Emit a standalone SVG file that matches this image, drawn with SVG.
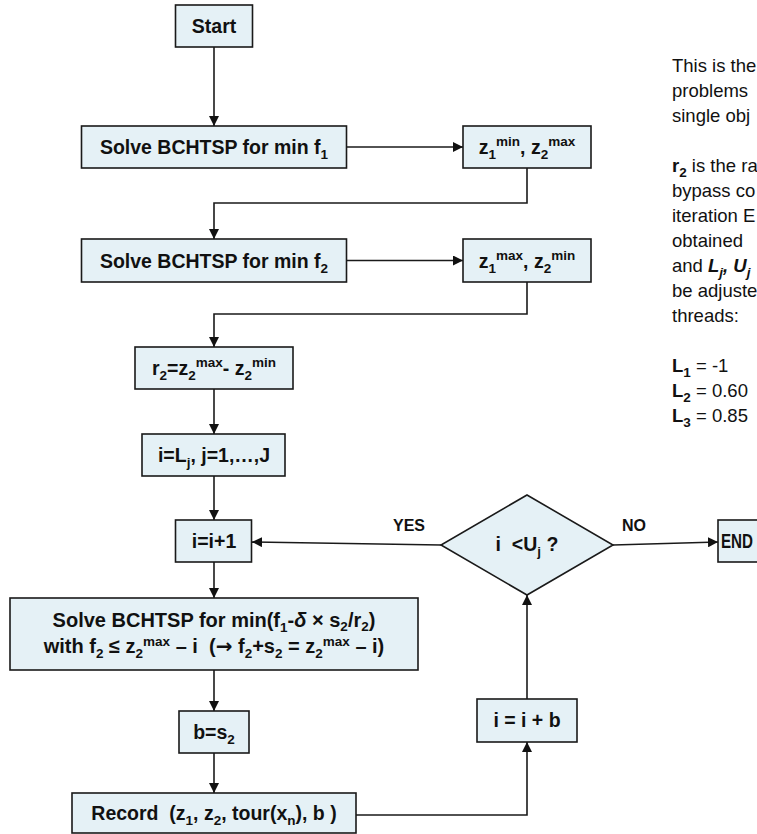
<svg xmlns="http://www.w3.org/2000/svg" width="757" height="834" viewBox="0 0 757 834">
<defs>
<marker id="ah" viewBox="0 0 10 10" refX="10" refY="5" markerWidth="10" markerHeight="10" markerUnits="userSpaceOnUse" orient="auto"><path d="M0,0 L10,5 L0,10 z" fill="#111"/></marker>
</defs>
<style>
.box{fill:#E5F1F6;stroke:#1a1a1a;stroke-width:1.6}
.t{font-family:"Liberation Sans",Arial,sans-serif;font-weight:bold;font-size:19.5px;fill:#111;text-anchor:middle}
.t2{font-size:20px}
.s{font-size:13.5px}
.c{fill:none;stroke:#1a1a1a;stroke-width:1.6}
.lbl{font-family:"Liberation Sans",Arial,sans-serif;font-weight:bold;font-size:16px;fill:#111;text-anchor:middle}
.note{font-family:"Liberation Sans",Arial,sans-serif;font-size:18.5px;fill:#111}
.arr{font-family:"DejaVu Sans",sans-serif;font-weight:bold}
</style>
<rect width="757" height="834" fill="#fff"/>

<g id="connectors">
<path class="c" d="M214,47 V126" marker-end="url(#ah)"/>
<path class="c" d="M346.5,147 H463" marker-end="url(#ah)"/>
<path class="c" d="M527,168 V203 H214 V239" marker-end="url(#ah)"/>
<path class="c" d="M346.5,260.5 H463" marker-end="url(#ah)"/>
<path class="c" d="M527,282 V314 H214 V347" marker-end="url(#ah)"/>
<path class="c" d="M214,389 V434" marker-end="url(#ah)"/>
<path class="c" d="M214,476 V520" marker-end="url(#ah)"/>
<path class="c" d="M441,545 L252,542" marker-end="url(#ah)"/>
<path class="c" d="M613,545 L718,542" marker-end="url(#ah)"/>
<path class="c" d="M214,562 V598" marker-end="url(#ah)"/>
<path class="c" d="M214,670 V711" marker-end="url(#ah)"/>
<path class="c" d="M214,753 V793" marker-end="url(#ah)"/>
<path class="c" d="M356,815 H527 V742" marker-end="url(#ah)"/>
<path class="c" d="M527,699 V595" marker-end="url(#ah)"/>
<text class="lbl" x="409" y="531">YES</text>
<text class="lbl" x="634" y="531">NO</text>
</g>

<g id="start">
<rect class="box" x="175.5" y="5" width="77" height="42"/>
<text class="t" x="214" y="33">Start</text>
</g>

<g id="solve1">
<rect class="box" x="81.5" y="126" width="265" height="42"/>
<text class="t" x="214" y="154">Solve BCHTSP for min f<tspan class="s" dy="5">1</tspan></text>
</g>

<g id="z1min">
<rect class="box" x="463" y="126" width="128" height="42"/>
<text class="t" x="527" y="154">z<tspan class="s" dy="5">1</tspan><tspan class="s" dy="-13">min</tspan><tspan dy="8">, z</tspan><tspan class="s" dy="5">2</tspan><tspan class="s" dy="-13">max</tspan></text>
</g>

<g id="solve2">
<rect class="box" x="81.5" y="239" width="265" height="43"/>
<text class="t" x="214" y="267.5">Solve BCHTSP for min f<tspan class="s" dy="5">2</tspan></text>
</g>

<g id="z1max">
<rect class="box" x="463" y="239" width="128" height="43"/>
<text class="t" x="527" y="267.5">z<tspan class="s" dy="5">1</tspan><tspan class="s" dy="-13">max</tspan><tspan dy="8">, z</tspan><tspan class="s" dy="5">2</tspan><tspan class="s" dy="-13">min</tspan></text>
</g>

<g id="r2">
<rect class="box" x="135" y="347" width="158" height="42"/>
<text class="t" x="214" y="375">r<tspan class="s" dy="5">2</tspan><tspan dy="-5">=z</tspan><tspan class="s" dy="5">2</tspan><tspan class="s" dy="-13">max</tspan><tspan dy="8">- z</tspan><tspan class="s" dy="5">2</tspan><tspan class="s" dy="-13">min</tspan></text>
</g>

<g id="init">
<rect class="box" x="142" y="434" width="143" height="42"/>
<text class="t" x="214" y="462">i=L<tspan class="s" dy="5">j</tspan><tspan dy="-5">, j=1,…,J</tspan></text>
</g>

<g id="inc">
<rect class="box" x="175.5" y="520" width="76" height="42"/>
<text class="t" x="214" y="548">i=i+1</text>
</g>

<g id="decision">
<polygon class="box" points="527,495 613,545 527,595 441,545"/>
<text class="t" x="527" y="551">i&#160; &lt;U<tspan class="s" dy="5">j</tspan><tspan dy="-5"> ?</tspan></text>
</g>

<g id="end">
<rect class="box" x="718" y="520" width="80" height="42"/>
<text class="t" x="721" y="548" style="text-anchor:start" textLength="32" lengthAdjust="spacingAndGlyphs">END</text>
</g>

<g id="solve3">
<rect class="box" x="10" y="598" width="408" height="72"/>
<text class="t t2" x="214" y="627">Solve BCHTSP for min(f<tspan class="s" dy="5">1</tspan><tspan dy="-5">-</tspan><tspan font-style="italic">δ</tspan><tspan> × s</tspan><tspan class="s" dy="4">2</tspan><tspan dy="-4">/r</tspan><tspan class="s" dy="4">2</tspan><tspan dy="-4">)</tspan></text>
<text class="t t2" x="214" y="653">with f<tspan class="s" dy="5">2</tspan><tspan dy="-5"> ≤ z</tspan><tspan class="s" dy="5">2</tspan><tspan class="s" dy="-12">max</tspan><tspan dy="7"> – i&#160; (</tspan><tspan class="arr">→</tspan><tspan> f</tspan><tspan class="s" dy="5">2</tspan><tspan dy="-5">+s</tspan><tspan class="s" dy="5">2</tspan><tspan dy="-5"> = z</tspan><tspan class="s" dy="5">2</tspan><tspan class="s" dy="-12">max</tspan><tspan dy="7"> – i)</tspan></text>
</g>

<g id="bs2">
<rect class="box" x="179" y="711" width="70" height="42"/>
<text class="t" x="214" y="739">b=s<tspan class="s" dy="5">2</tspan></text>
</g>

<g id="iib">
<rect class="box" x="477" y="699" width="100" height="43"/>
<text class="t" x="527" y="727">i = i + b</text>
</g>

<g id="record">
<rect class="box" x="72" y="793" width="284" height="40"/>
<text class="t" x="214" y="820">Record&#160; (z<tspan class="s" dy="5">1</tspan><tspan dy="-5">, z</tspan><tspan class="s" dy="5">2</tspan><tspan dy="-5">, tour(x</tspan><tspan class="s" dy="5">n</tspan><tspan dy="-5">), b )</tspan></text>
</g>

<g id="note">
<text class="note" x="672" y="72">This is the</text>
<text class="note" x="672" y="97">problems</text>
<text class="note" x="672" y="122">single obj</text>
<text class="note" x="672" y="172"><tspan font-weight="bold">r</tspan><tspan class="s" font-weight="bold" dy="5">2</tspan><tspan dy="-5"> is the ra</tspan></text>
<text class="note" x="672" y="197">bypass co</text>
<text class="note" x="672" y="222">iteration E</text>
<text class="note" x="672" y="247">obtained</text>
<text class="note" x="672" y="272">and <tspan font-weight="bold" font-style="italic">L</tspan><tspan class="s" font-weight="bold" font-style="italic" dy="5">j</tspan><tspan font-weight="bold" font-style="italic" dy="-5">, U</tspan><tspan class="s" font-weight="bold" font-style="italic" dy="5">j</tspan></text>
<text class="note" x="672" y="297">be adjuste</text>
<text class="note" x="672" y="322">threads:</text>
<text class="note" x="672" y="372"><tspan font-weight="bold">L</tspan><tspan class="s" font-weight="bold" dy="5">1</tspan><tspan dy="-5"> = -1</tspan></text>
<text class="note" x="672" y="397"><tspan font-weight="bold">L</tspan><tspan class="s" font-weight="bold" dy="5">2</tspan><tspan dy="-5"> = 0.60</tspan></text>
<text class="note" x="672" y="422"><tspan font-weight="bold">L</tspan><tspan class="s" font-weight="bold" dy="5">3</tspan><tspan dy="-5"> = 0.85</tspan></text>
</g>
</svg>
